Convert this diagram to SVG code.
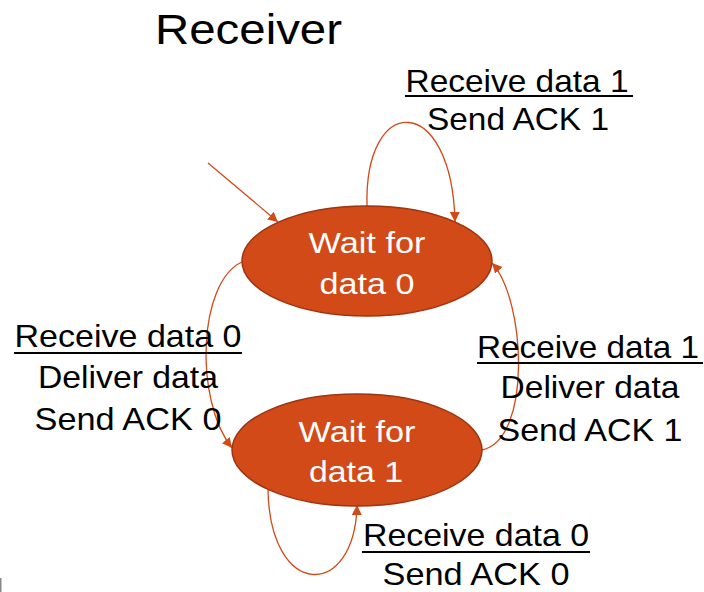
<svg xmlns="http://www.w3.org/2000/svg" width="704" height="592" viewBox="0 0 704 592">
<style>
.node{fill:#D24A18;stroke:#9E3410;stroke-width:1.5}
.nt{font-family:"Liberation Sans",Arial,sans-serif;font-size:29px;fill:#fff;text-anchor:middle}
.lbl{font-family:"Liberation Sans",Arial,sans-serif;font-size:32px;fill:#000;text-anchor:middle}
.ul{stroke:#000;stroke-width:2}
.edge{fill:none;stroke:#D24A18;stroke-width:1.3}
.title{font-family:"Liberation Sans",Arial,sans-serif;font-size:43px;fill:#000}
</style>
<defs>
<marker id="ah" viewBox="0 0 10 10" refX="10" refY="5" markerWidth="10" markerHeight="10" markerUnits="userSpaceOnUse" orient="auto">
<path d="M0,0 L10,5 L0,10 z" fill="#D24A18"/>
</marker>
</defs>
<rect width="704" height="592" fill="#fff"/>
<text class="title" x="155" y="44" textLength="187" lengthAdjust="spacingAndGlyphs">Receiver</text>
<g id="edges">
<path class="edge" d="M208,163 L278,222" marker-end="url(#ah)"/>
<path class="edge" d="M367,206 C364,92 452,92 455,222" marker-end="url(#ah)"/>
<path class="edge" d="M242,262 C198,282 194,400 232,448" marker-end="url(#ah)"/>
<path class="edge" d="M482,450 C532,440 526,300 492,263" marker-end="url(#ah)"/>
<path class="edge" d="M268,490 C270,600 355,600 357,505" marker-end="url(#ah)"/>
</g>
<g id="wait0">
<ellipse class="node" cx="367" cy="261" rx="125" ry="55"/>
<text class="nt" x="367" y="253" textLength="117" lengthAdjust="spacingAndGlyphs">Wait for</text>
<text class="nt" x="367" y="294" textLength="95" lengthAdjust="spacingAndGlyphs">data 0</text>
</g>
<g id="wait1">
<ellipse class="node" cx="357" cy="450" rx="125" ry="56"/>
<text class="nt" x="357" y="442" textLength="117" lengthAdjust="spacingAndGlyphs">Wait for</text>
<text class="nt" x="356" y="482" textLength="94" lengthAdjust="spacingAndGlyphs">data 1</text>
</g>
<g id="label-top">
<text class="lbl" x="517" y="92" textLength="223" lengthAdjust="spacingAndGlyphs">Receive data 1</text>
<line class="ul" x1="405" y1="96" x2="633" y2="96"/>
<text class="lbl" x="518" y="130" textLength="182" lengthAdjust="spacingAndGlyphs">Send ACK 1</text>
</g>
<g id="label-left">
<text class="lbl" x="128" y="347" textLength="227" lengthAdjust="spacingAndGlyphs">Receive data 0</text>
<line class="ul" x1="14" y1="353" x2="242" y2="353"/>
<text class="lbl" x="128" y="388" textLength="180" lengthAdjust="spacingAndGlyphs">Deliver data</text>
<text class="lbl" x="128" y="430" textLength="187" lengthAdjust="spacingAndGlyphs">Send ACK 0</text>
</g>
<g id="label-right">
<text class="lbl" x="588" y="358" textLength="222" lengthAdjust="spacingAndGlyphs">Receive data 1</text>
<line class="ul" x1="477" y1="363" x2="703" y2="363"/>
<text class="lbl" x="590" y="398" textLength="179" lengthAdjust="spacingAndGlyphs">Deliver data</text>
<text class="lbl" x="590" y="441" textLength="185" lengthAdjust="spacingAndGlyphs">Send ACK 1</text>
</g>
<g id="label-bottom">
<text class="lbl" x="476" y="546" textLength="226" lengthAdjust="spacingAndGlyphs">Receive data 0</text>
<line class="ul" x1="362" y1="552" x2="590" y2="552"/>
<text class="lbl" x="476" y="585" textLength="187" lengthAdjust="spacingAndGlyphs">Send ACK 0</text>
</g>
<rect x="0" y="578" width="1.5" height="14" fill="#888"/>
</svg>
